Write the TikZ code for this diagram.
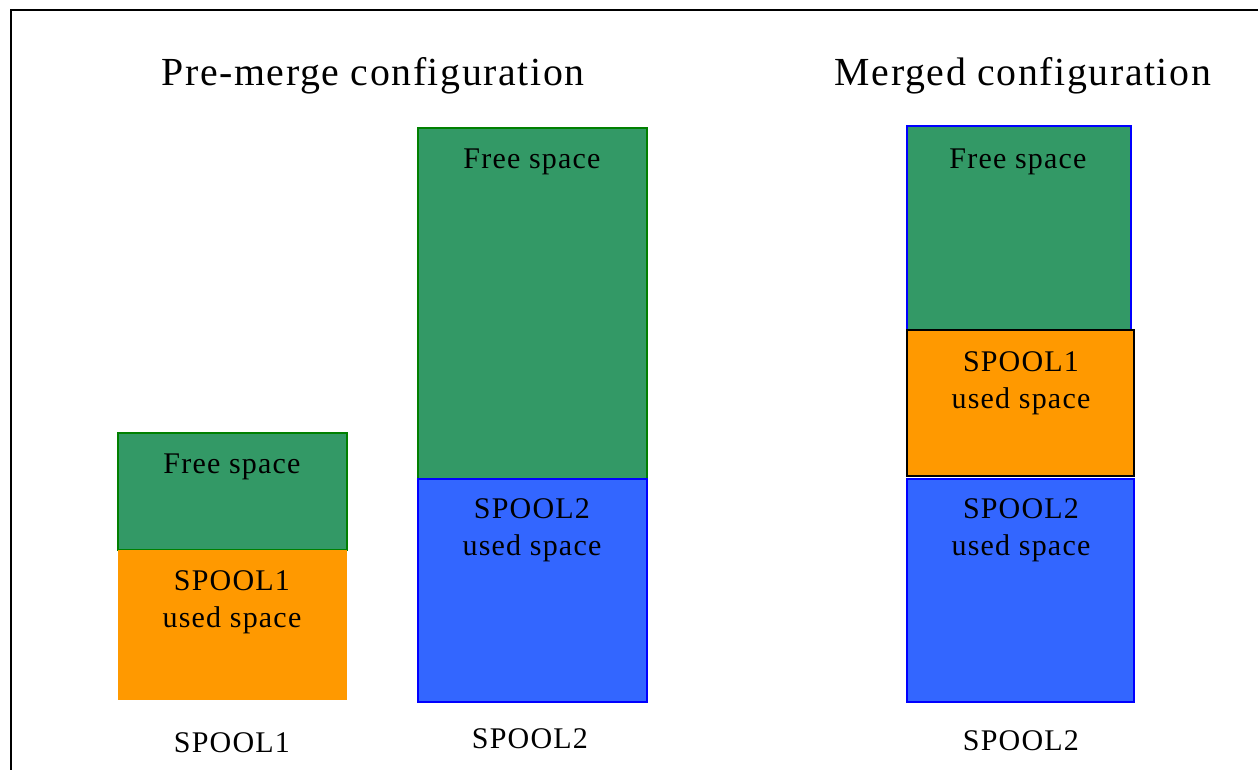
\documentclass[tikz,border=0pt]{standalone}
\usepackage{fontspec}
\setmainfont{Liberation Serif}[LetterSpace=4]
\definecolor{freegreen}{RGB}{51,153,102}
\definecolor{linegreen}{RGB}{0,128,0}
\definecolor{usedorange}{RGB}{255,153,0}
\definecolor{usedblue}{RGB}{51,102,255}
\definecolor{lineblue}{RGB}{0,0,255}
\tikzset{
  free/.style={fill=freegreen, draw=linegreen, line width=1.2pt},
  mergedfree/.style={fill=freegreen, draw=lineblue, line width=1.2pt},
  spoolone/.style={fill=usedorange},
  mergedone/.style={fill=usedorange, draw=black, line width=1.2pt},
  spooltwo/.style={fill=usedblue, draw=lineblue, line width=1.2pt},
  boxtext/.style={font=\fontsize{15}{18.5}\selectfont, align=center, inner sep=0pt},
  heading/.style={font=\fontsize{19.9}{24}\selectfont, inner sep=0pt}
}
\begin{document}
\begin{tikzpicture}[x=0.5pt,y=-0.5pt]
\useasboundingbox (0,0) rectangle (1258,770);

% frame
\draw[line width=1pt] (1258,10) -- (11,10) -- (11,770);

% titles
\node[heading] (pretitle) at (373,76) {Pre-merge configuration};
\node[heading] (mergetitle) at (1023,76) {Merged configuration};

% SPOOL1 before merge
\draw[free] (118,433) rectangle (347,550);
\fill[spoolone] (118,550) rectangle (347,700);
\node[boxtext] (freeone) at (232,467) {Free space};
\node[boxtext] (usedone) at (232,602) {SPOOL1\\used space};
\node[boxtext] (nameone) at (232,743) {SPOOL1};

% SPOOL2 before merge
\draw[free] (418,128) rectangle (647,479);
\draw[spooltwo] (418,479) rectangle (647,702);
\node[boxtext] (freetwo) at (532,162) {Free space};
\node[boxtext] (usedtwo) at (532,530) {SPOOL2\\used space};
\node[boxtext] (nametwo) at (530,739) {SPOOL2};

% SPOOL2 after merge
\draw[mergedfree] (907,126) rectangle (1131,330);
\draw[spooltwo] (907,479) rectangle (1134,702);
\draw[mergedone] (907,330) rectangle (1134,476);
\node[boxtext] (freemerged) at (1018,162) {Free space};
\node[boxtext] (usedmergedone) at (1021,383) {SPOOL1\\used space};
\node[boxtext] (usedmergedtwo) at (1021,530) {SPOOL2\\used space};
\node[boxtext] (namemerged) at (1021,741) {SPOOL2};
\end{tikzpicture}
\end{document}
